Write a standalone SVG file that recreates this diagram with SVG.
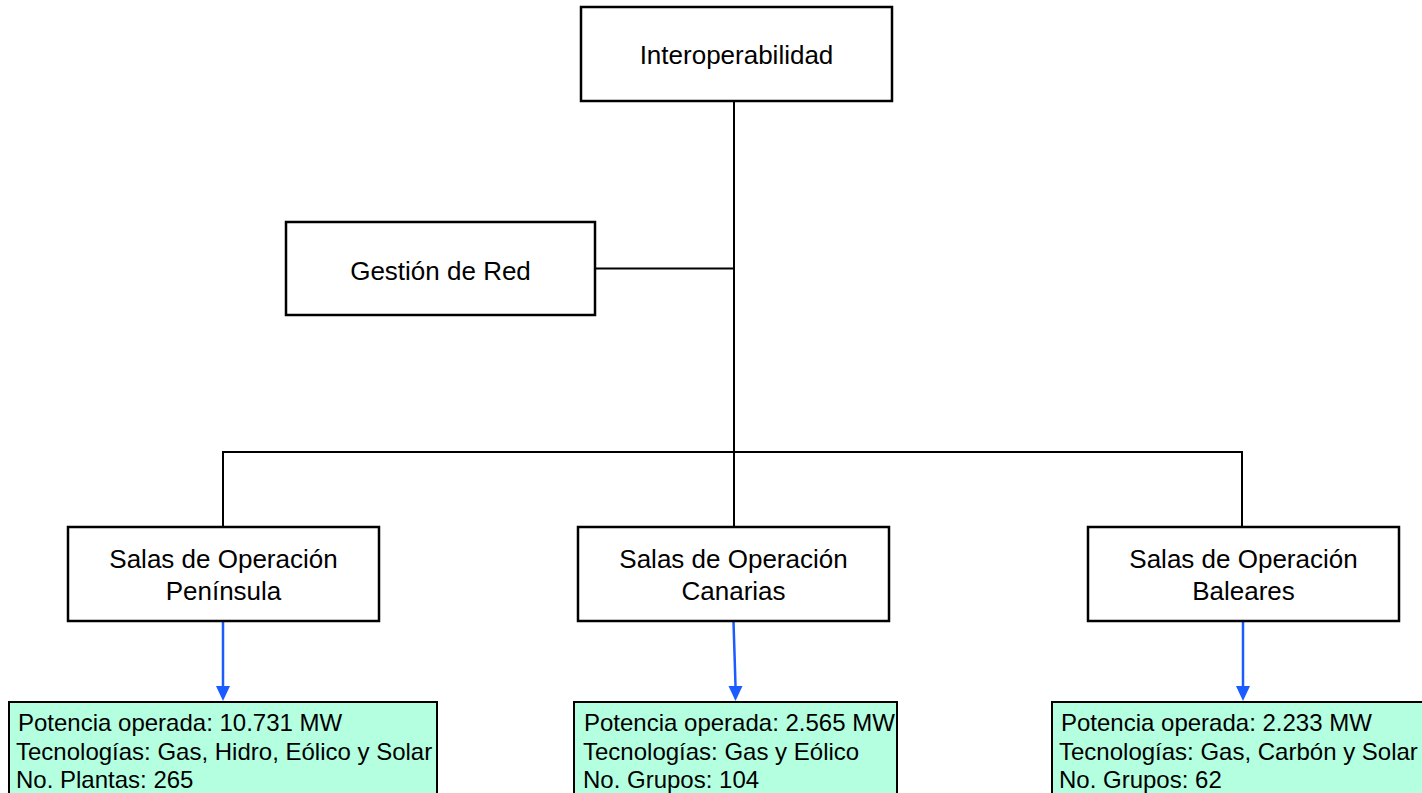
<svg xmlns="http://www.w3.org/2000/svg" width="1422" height="793" viewBox="0 0 1422 793">
<style>
.box{fill:#ffffff;stroke:#000000;stroke-width:2.5}
.info{fill:#b4ffe0;stroke:#000000;stroke-width:2}
.t{font-family:"Liberation Sans",Arial,sans-serif;font-size:26px;fill:#000000;text-anchor:middle}
.i{font-family:"Liberation Sans",Arial,sans-serif;font-size:24px;fill:#000000}
.c{fill:none;stroke:#000000;stroke-width:2}
.b{fill:none;stroke:#1a5cff;stroke-width:2.5}
</style>
<defs>
<marker id="ah" viewBox="0 0 14 15" refX="7" refY="15" markerWidth="14" markerHeight="15" markerUnits="userSpaceOnUse" orient="auto-start-reverse">
<path d="M0,0 L14,0 L7,15 Z" fill="#1a5cff"/>
</marker>
</defs>
<rect width="1422" height="793" fill="#ffffff"/>
<g id="connectors">
<path class="c" d="M734,101 V527"/>
<path class="c" d="M595,268.5 H734"/>
<path class="c" d="M223,527 V452 H1242 V527"/>
<path class="b" d="M223,621 V686"/>
<path d="M216,686 L230,686 L223,701 Z" fill="#1a5cff"/>
<path class="b" d="M733.5,621 L735.5,686"/>
<path d="M728.5,686 L742.5,686 L735.5,701 Z" fill="#1a5cff"/>
<path class="b" d="M1243,621 V686"/>
<path d="M1236,686 L1250,686 L1243,701 Z" fill="#1a5cff"/>
</g>
<g id="interoperabilidad">
<rect class="box" x="581" y="7" width="311" height="94"/>
<text class="t" x="736.5" y="64">Interoperabilidad</text>
</g>
<g id="gestion">
<rect class="box" x="286" y="222" width="309" height="93"/>
<text class="t" x="440.5" y="280">Gestión de Red</text>
</g>
<g id="peninsula">
<rect class="box" x="68" y="527" width="311" height="94"/>
<text class="t" x="223.5" y="568">Salas de Operación</text>
<text class="t" x="223.5" y="600">Península</text>
</g>
<g id="canarias">
<rect class="box" x="578" y="527" width="311" height="94"/>
<text class="t" x="733.5" y="568">Salas de Operación</text>
<text class="t" x="733.5" y="600">Canarias</text>
</g>
<g id="baleares">
<rect class="box" x="1088" y="527" width="311" height="94"/>
<text class="t" x="1243.5" y="568">Salas de Operación</text>
<text class="t" x="1243.5" y="600">Baleares</text>
</g>
<g id="info-peninsula">
<rect class="info" x="9" y="702" width="428" height="100"/>
<text class="i" x="18" y="731">Potencia operada: 10.731 MW</text>
<text class="i" x="16" y="760">Tecnologías: Gas, Hidro, Eólico y Solar</text>
<text class="i" x="16" y="788">No. Plantas: 265</text>
</g>
<g id="info-canarias">
<rect class="info" x="574" y="702" width="323" height="100"/>
<text class="i" x="584" y="731">Potencia operada: 2.565 MW</text>
<text class="i" x="583" y="760">Tecnologías: Gas y Eólico</text>
<text class="i" x="583" y="788">No. Grupos: 104</text>
</g>
<g id="info-baleares">
<rect class="info" x="1052" y="702" width="380" height="100"/>
<text class="i" x="1061" y="731">Potencia operada: 2.233 MW</text>
<text class="i" x="1059" y="760">Tecnologías: Gas, Carbón y Solar</text>
<text class="i" x="1059" y="788">No. Grupos: 62</text>
</g>
</svg>
